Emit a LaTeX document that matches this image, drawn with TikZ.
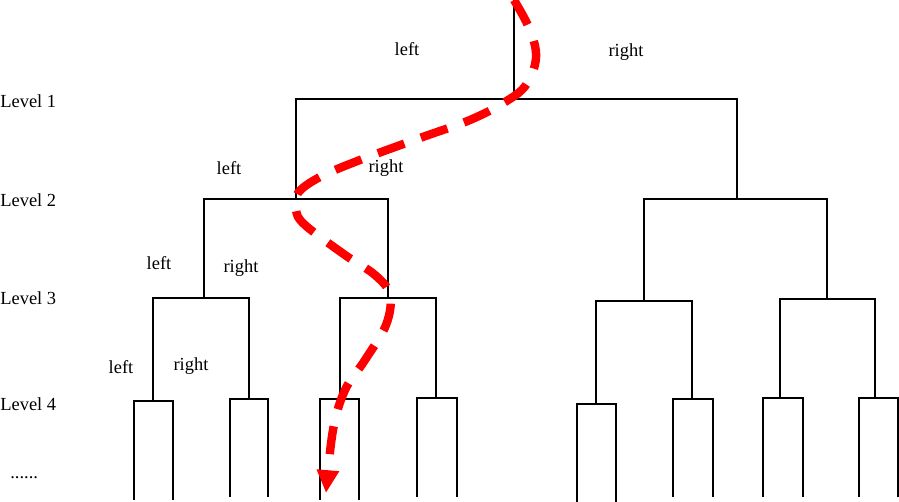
\documentclass[tikz,border=0pt]{standalone}
\usepackage{fontspec}
\setmainfont{Liberation Serif}
\usetikzlibrary{arrows.meta}
\tikzset{
  branch/.style={line width=1.1pt},
  lbl/.style={font=\fontsize{10.5}{12}\selectfont, inner sep=0pt},
  lvl/.style={lbl, anchor=west},
  walk/.style={red, line width=4.8pt, dash pattern=on 16pt off 10pt, -{Triangle[length=13pt,width=12pt]}}
}
\begin{document}
\begin{tikzpicture}[x=0.02cm,y=-0.02cm] % 4 levels
  \useasboundingbox (0,0) rectangle (899,502);
  % junctions
  \coordinate (r0) at (514,0);   \coordinate (n1) at (514,99);
  \coordinate (n2a) at (296,199); \coordinate (n2b) at (737,199);
  \coordinate (n3a) at (204,298); \coordinate (n3b) at (388,298);
  \coordinate (n3c) at (644,301); \coordinate (n3d) at (827,299);
  \coordinate (n4a) at (153,401); \coordinate (n4b) at (249,399);
  \coordinate (n4c) at (340,399); \coordinate (n4d) at (436,398);
  \coordinate (n4e) at (596,404); \coordinate (n4f) at (692,399);
  \coordinate (n4g) at (780,398); \coordinate (n4h) at (875,398);
  % leaves
  \coordinate (lf1) at (134,500); \coordinate (lf2) at (173,500);
  \coordinate (lf3) at (230,497); \coordinate (lf4) at (268,497);
  \coordinate (lf5) at (320,500); \coordinate (lf6) at (359,500);
  \coordinate (lf7) at (417,497); \coordinate (lf8) at (457,497);
  \coordinate (lf9) at (577,502); \coordinate (lf10) at (616,502);
  \coordinate (lf11) at (673,497); \coordinate (lf12) at (713,497);
  \coordinate (lf13) at (763,497); \coordinate (lf14) at (803,497);
  \coordinate (lf15) at (859,497); \coordinate (lf16) at (898,497);

  \draw[branch] (r0) -- (n1);
  \draw[branch] (n2a) |- (n1) -| (n2b);
  \draw[branch] (n3a) |- (n2a) -| (n3b);
  \draw[branch] (n3c) |- (n2b) -| (n3d);
  \draw[branch] (n4a) |- (n3a) -| (n4b);
  \draw[branch] (n4c) |- (n3b) -| (n4d);
  \draw[branch] (n4e) |- (n3c) -| (n4f);
  \draw[branch] (n4g) |- (n3d) -| (n4h);
  \draw[branch] (lf1) |- (n4a) -| (lf2);
  \draw[branch] (lf3) |- (n4b) -| (lf4);
  \draw[branch] (lf5) |- (n4c) -| (lf6);
  \draw[branch] (lf7) |- (n4d) -| (lf8);
  \draw[branch] (lf9) |- (n4e) -| (lf10);
  \draw[branch] (lf11) |- (n4f) -| (lf12);
  \draw[branch] (lf13) |- (n4g) -| (lf14);
  \draw[branch] (lf15) |- (n4h) -| (lf16);

  % levels
  \node[lvl] (lv1) at (0,101) {Level 1};
  \node[lvl] (lv2) at (0,200) {Level 2};
  \node[lvl] (lv3) at (0,298) {Level 3};
  \node[lvl] (lv4) at (0,404) {Level 4};
  \node[lvl] (more) at (10,478) {......};

  % branch labels
  \node[lbl] (l1left) at (407,49) {left};
  \node[lbl] (l1right) at (626,52) {right};
  \node[lbl] (l2left) at (229,168) {left};
  \node[lbl] (l2right) at (386,168) {right};
  \node[lbl] (l3left) at (159,263) {left};
  \node[lbl] (l3right) at (241,268) {right};
  \node[lbl] (l4left) at (121,367) {left};
  \node[lbl] (l4right) at (191,366) {right};

  % path taken
  \draw[walk] plot[smooth, tension=0.6] coordinates {(r0) (530,30) (536,58) (526,85) (505,102) (470,120) (420,138) (360,160) (320,177) (298,193) (296,210) (305,225) (345,255) (375,275) (390,295) (386,325) (365,360) (345,390) (333,430) (326,493)};
\end{tikzpicture}
\end{document}
